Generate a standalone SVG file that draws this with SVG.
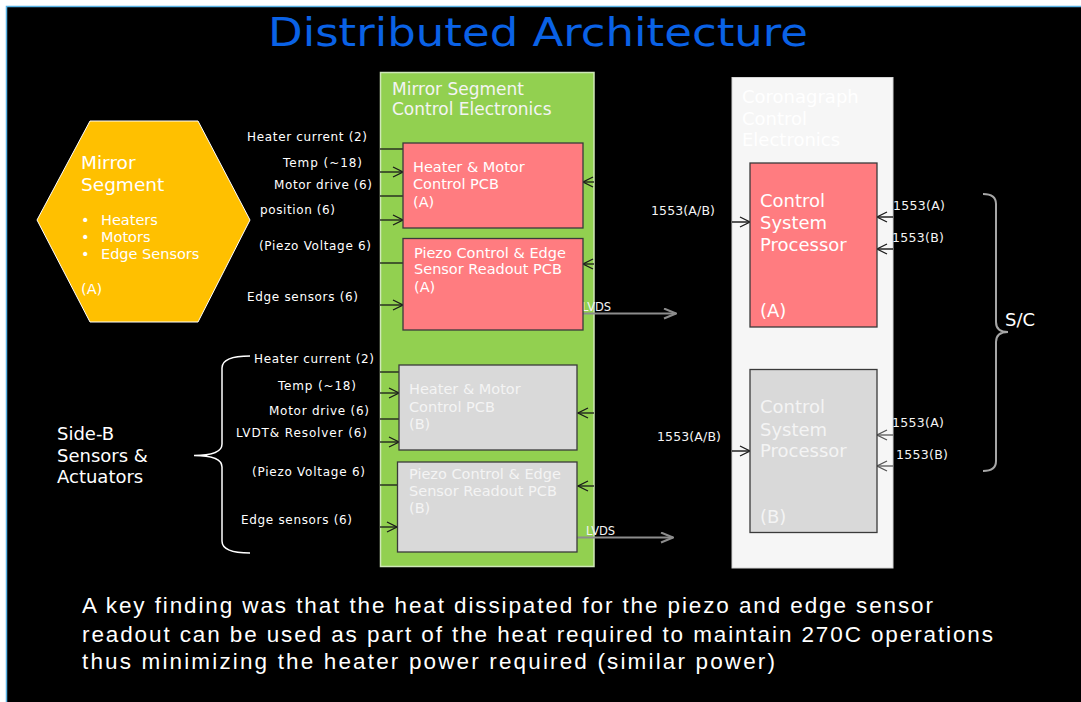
<svg xmlns="http://www.w3.org/2000/svg" width="1081" height="702" viewBox="0 0 1081 702">
<style>
.v{font-family:"DejaVu Sans","Verdana",sans-serif;}
.lbl{font-family:"DejaVu Sans","Verdana",sans-serif;font-size:12px;fill:#ffffff;}
.num{font-family:"DejaVu Sans","Verdana",sans-serif;font-size:12.5px;fill:#f4f4f4;}
.pcbt{font-family:"DejaVu Sans","Verdana",sans-serif;font-size:14.5px;fill:#ffffff;}
.pcbg{font-family:"DejaVu Sans","Verdana",sans-serif;font-size:14.5px;fill:#f4f4f4;}
.cspt{font-family:"DejaVu Sans","Verdana",sans-serif;font-size:18px;fill:#ffffff;}
.cspg{font-family:"DejaVu Sans","Verdana",sans-serif;font-size:18px;fill:#f4f4f4;}
.fnd{font-family:"Liberation Sans",Arial,sans-serif;font-size:22.5px;fill:#ffffff;}
.ln{stroke:#1a1a1a;stroke-width:1.3;fill:none;}
.lnb{stroke:#000000;stroke-width:1.3;fill:none;}
.lng{stroke:#555555;stroke-width:1.3;fill:none;}
.lvds{stroke:#8c8c8c;stroke-width:2;fill:none;}
.pink{fill:#FF7C80;stroke:#3a3a3a;stroke-width:1.3;}
.gray{fill:#D9D9D9;stroke:#3a3a3a;stroke-width:1.3;}
</style>
<defs>
<marker id="ahd" viewBox="0 0 12 12" refX="11" refY="6" markerWidth="12" markerHeight="12" markerUnits="userSpaceOnUse" orient="auto"><path d="M1,1 L11,6 L1,11" fill="none" stroke="#1a1a1a" stroke-width="1.3"/></marker>
<marker id="ahg" viewBox="0 0 12 12" refX="11" refY="6" markerWidth="12" markerHeight="12" markerUnits="userSpaceOnUse" orient="auto"><path d="M1,1 L11,6 L1,11" fill="none" stroke="#555555" stroke-width="1.3"/></marker>
<marker id="ahl" viewBox="0 0 14 12" refX="13" refY="6" markerWidth="14" markerHeight="12" markerUnits="userSpaceOnUse" orient="auto"><path d="M1,1 L13,6 L1,11" fill="none" stroke="#8c8c8c" stroke-width="2"/></marker>
</defs>

<rect x="0" y="0" width="1081" height="702" fill="#ffffff"/>
<rect x="6.5" y="6.5" width="1080" height="700" fill="#000000" stroke="#5ab4e6" stroke-width="1.5"/>

<text x="538" y="46" text-anchor="middle" class="v" font-size="39" fill="#0a62e6" textLength="540" lengthAdjust="spacingAndGlyphs">Distributed Architecture</text>

<g id="mirror-segment">
<polygon points="90,121 198,121 250,220 198,322 90,322 37,220" fill="#FFC000" stroke="#ffffff" stroke-width="1"/>
<text x="81" y="169" class="v" font-size="18.5" fill="#ffffff">Mirror</text>
<text x="81" y="191" class="v" font-size="18.5" fill="#ffffff">Segment</text>
<text x="81" y="225" class="v" font-size="14.5" fill="#ffffff">•</text>
<text x="101" y="225" class="v" font-size="14.5" fill="#ffffff">Heaters</text>
<text x="81" y="242" class="v" font-size="14.5" fill="#ffffff">•</text>
<text x="101" y="242" class="v" font-size="14.5" fill="#ffffff">Motors</text>
<text x="81" y="259" class="v" font-size="14.5" fill="#ffffff">•</text>
<text x="101" y="259" class="v" font-size="14.5" fill="#ffffff">Edge Sensors</text>
<text x="81" y="294" class="v" font-size="14.5" fill="#ffffff">(A)</text>
</g>

<g id="labels-a">
<text x="247" y="141" class="lbl" textLength="120" lengthAdjust="spacing">Heater current (2)</text>
<text x="283" y="167" class="lbl" textLength="79" lengthAdjust="spacing">Temp (~18)</text>
<text x="274" y="189" class="lbl" textLength="98" lengthAdjust="spacing">Motor drive (6)</text>
<text x="260" y="214" class="lbl" textLength="75" lengthAdjust="spacing">position (6)</text>
<text x="259" y="250" class="lbl" textLength="112" lengthAdjust="spacing">(Piezo Voltage 6)</text>
<text x="247" y="301" class="lbl" textLength="111" lengthAdjust="spacing">Edge sensors (6)</text>
</g>

<g id="side-b">
<text x="57" y="440" class="v" font-size="18" fill="#ffffff">Side-B</text>
<text x="57" y="462" class="v" font-size="18" fill="#ffffff">Sensors &amp;</text>
<text x="57" y="483" class="v" font-size="18" fill="#ffffff">Actuators</text>
<path d="M250,356 Q222,356 222,368 L222,444 Q222,455.5 194,455.5 Q222,455.5 222,467 L222,541 Q222,553 250,553" fill="none" stroke="#ffffff" stroke-width="1.5"/>
</g>

<g id="labels-b">
<text x="254" y="363" class="lbl" textLength="120" lengthAdjust="spacing">Heater current (2)</text>
<text x="278" y="390" class="lbl" textLength="78" lengthAdjust="spacing">Temp (~18)</text>
<text x="269" y="415" class="lbl" textLength="100" lengthAdjust="spacing">Motor drive (6)</text>
<text x="236" y="437" class="lbl" textLength="131" lengthAdjust="spacing">LVDT&amp; Resolver (6)</text>
<text x="252" y="476" class="lbl" textLength="113" lengthAdjust="spacing">(Piezo Voltage 6)</text>
<text x="241" y="524" class="lbl" textLength="111" lengthAdjust="spacing">Edge sensors (6)</text>
</g>

<g id="mirror-segment-control-electronics">
<rect x="380.5" y="72.5" width="213.5" height="494" fill="#92D050" stroke="#cfe7b8" stroke-width="1.5"/>
<text x="392" y="95" class="v" font-size="17" fill="#f4f4f4">Mirror Segment</text>
<text x="392" y="115" class="v" font-size="17" fill="#f4f4f4">Control Electronics</text>
</g>

<g id="coronagraph-control-electronics">
<rect x="732" y="77.5" width="161" height="490.5" fill="#F6F6F6" stroke="#d4d4d4" stroke-width="1"/>
<text x="742" y="103" class="v" font-size="18" fill="#ffffff">Coronagraph</text>
<text x="742" y="125" class="v" font-size="18" fill="#ffffff">Control</text>
<text x="742" y="146" class="v" font-size="18" fill="#ffffff">Electronics</text>
</g>

<g id="connectors">
<line x1="380" y1="149" x2="403" y2="149" class="ln"/>
<line x1="380" y1="172" x2="403" y2="172" class="ln" marker-end="url(#ahd)"/>
<line x1="380" y1="196" x2="403" y2="196" class="ln"/>
<line x1="380" y1="220" x2="403" y2="220" class="ln" marker-end="url(#ahd)"/>
<line x1="380" y1="263" x2="403" y2="263" class="ln"/>
<line x1="380" y1="305" x2="403" y2="305" class="ln" marker-end="url(#ahd)"/>
<line x1="594" y1="182" x2="583" y2="182" class="ln" marker-end="url(#ahd)"/>
<line x1="594" y1="264" x2="583" y2="264" class="ln" marker-end="url(#ahd)"/>
<line x1="380" y1="372" x2="399" y2="372" class="ln"/>
<line x1="380" y1="393" x2="399" y2="393" class="ln" marker-end="url(#ahd)"/>
<line x1="380" y1="419" x2="399" y2="419" class="ln"/>
<line x1="380" y1="442" x2="399" y2="442" class="ln" marker-end="url(#ahd)"/>
<line x1="380" y1="485" x2="397" y2="485" class="ln"/>
<line x1="380" y1="527" x2="397" y2="527" class="ln" marker-end="url(#ahd)"/>
<line x1="594" y1="413" x2="578" y2="413" class="ln" marker-end="url(#ahd)"/>
<line x1="594" y1="486" x2="578" y2="486" class="ln" marker-end="url(#ahd)"/>
<line x1="583" y1="313.5" x2="676" y2="313.5" class="lvds" marker-end="url(#ahl)"/>
<text x="582" y="311" class="v" font-size="11.5" fill="#f4f4f4">LVDS</text>
<line x1="577" y1="537.5" x2="673" y2="537.5" class="lvds" marker-end="url(#ahl)"/>
<text x="586" y="535" class="v" font-size="11.5" fill="#f4f4f4">LVDS</text>
<line x1="732" y1="222" x2="750" y2="222" class="lnb" marker-end="url(#ahd)"/>
<text x="651" y="215" class="num" textLength="64" lengthAdjust="spacing">1553(A/B)</text>
<line x1="732" y1="451" x2="750" y2="451" class="lnb" marker-end="url(#ahd)"/>
<text x="657" y="441" class="num" textLength="64" lengthAdjust="spacing">1553(A/B)</text>
<line x1="893" y1="217" x2="877" y2="217" class="lnb" marker-end="url(#ahd)"/>
<text x="893" y="210" class="num" textLength="52" lengthAdjust="spacing">1553(A)</text>
<line x1="893" y1="249" x2="877" y2="249" class="lnb" marker-end="url(#ahd)"/>
<text x="892" y="242" class="num" textLength="52" lengthAdjust="spacing">1553(B)</text>
<line x1="893" y1="435" x2="877" y2="435" class="lng" marker-end="url(#ahg)"/>
<text x="892" y="427" class="num" textLength="52" lengthAdjust="spacing">1553(A)</text>
<line x1="893" y1="466" x2="877" y2="466" class="lng" marker-end="url(#ahg)"/>
<text x="896" y="459" class="num" textLength="52" lengthAdjust="spacing">1553(B)</text>
</g>

<g id="pcb-heater-motor-a">
<rect x="403" y="143" width="180" height="85" class="pink"/>
<text x="413" y="172" class="pcbt">Heater &amp; Motor</text>
<text x="413" y="189" class="pcbt">Control PCB</text>
<text x="413" y="207" class="pcbt">(A)</text>
</g>

<g id="pcb-piezo-a">
<rect x="403" y="238.5" width="180" height="91.5" class="pink"/>
<text x="414" y="258" class="pcbt">Piezo Control &amp; Edge</text>
<text x="414" y="274" class="pcbt">Sensor Readout PCB</text>
<text x="414" y="292" class="pcbt">(A)</text>
</g>

<g id="pcb-heater-motor-b">
<rect x="399" y="365" width="178" height="85" class="gray"/>
<text x="409" y="394" class="pcbg">Heater &amp; Motor</text>
<text x="409" y="412" class="pcbg">Control PCB</text>
<text x="409" y="429" class="pcbg">(B)</text>
</g>

<g id="pcb-piezo-b">
<rect x="397.5" y="462" width="179.5" height="90" class="gray"/>
<text x="409" y="479" class="pcbg">Piezo Control &amp; Edge</text>
<text x="409" y="496" class="pcbg">Sensor Readout PCB</text>
<text x="409" y="513" class="pcbg">(B)</text>
</g>

<g id="csp-a">
<rect x="750" y="163" width="127" height="164" class="pink"/>
<text x="760" y="207" class="cspt">Control</text>
<text x="760" y="229" class="cspt">System</text>
<text x="760" y="251" class="cspt">Processor</text>
<text x="760" y="317" class="cspt">(A)</text>
</g>

<g id="csp-b">
<rect x="750" y="369.5" width="127" height="163" class="gray"/>
<text x="760" y="413" class="cspg">Control</text>
<text x="760" y="436" class="cspg">System</text>
<text x="760" y="457" class="cspg">Processor</text>
<text x="760" y="523" class="cspg">(B)</text>
</g>

<g id="sc">
<path d="M983,194 Q996,194 996,204 L996,322 Q996,332 1008,332 Q996,332 996,342 L996,461 Q996,471 983,471" fill="none" stroke="#a6a6a6" stroke-width="2"/>
<text x="1005" y="326" class="v" font-size="18" fill="#ffffff">S/C</text>
</g>

<g id="finding">
<text x="82" y="613" class="fnd" textLength="851" lengthAdjust="spacing">A key finding was that the heat dissipated for the piezo and edge sensor</text>
<text x="82" y="641.5" class="fnd" textLength="911" lengthAdjust="spacing">readout can be used as part of the heat required to maintain 270C operations</text>
<text x="82" y="669" class="fnd" textLength="693" lengthAdjust="spacing">thus minimizing the heater power required (similar power)</text>
</g>
</svg>
